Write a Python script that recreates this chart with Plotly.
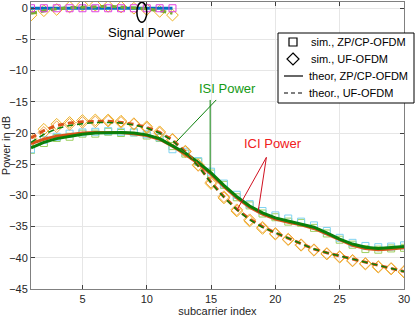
import plotly.graph_objects as go

# subcarrier indices
sub = list(range(1, 31))
sig_sub = list(range(1, 13))

# signal power (dB)
sig_zp_theor = [0, 0, 0, 0, 0, 0, 0, 0, 0, 0, 0, 0]
sig_zp_sim = [0, 0, 0, 0, 0, 0, 0, 0, 0, 0, 0, 0]
sig_uf_theor = [-0.8, -0.4, -0.1, 0.1, 0.2, 0.3, 0.3, 0.2, 0.1, -0.1, -0.4, -0.8]
sig_uf_sim = [-1.1, -0.4, -0.2, 0.2, 0.5, 0.5, 0.3, 0.2, 0.0, -0.2, -0.5, -1.1]

# ISI / ICI power (dB)
isi_zp_theor = [-22.4, -21.5, -20.9, -20.5, -20.2, -20.0, -19.9, -19.9, -20.0, -20.3,
                -20.9, -22.0, -23.2, -24.7, -26.4, -28.4, -30.2, -31.7, -32.8, -33.6,
                -34.1, -34.5, -35.1, -36.0, -37.0, -37.8, -38.3, -38.5, -38.4, -38.2]
ici_zp_theor = [-21.7, -21.0, -20.5, -20.2, -20.0, -19.9, -19.9, -19.9, -20.1, -20.4,
                -21.0, -22.1, -23.4, -24.9, -26.6, -28.6, -30.4, -31.9, -33.0, -33.8,
                -34.3, -34.7, -35.3, -36.2, -37.2, -38.0, -38.5, -38.7, -38.6, -38.4]
isi_uf_theor = [-21.5, -20.2, -19.3, -18.8, -18.5, -18.3, -18.3, -18.4, -18.7, -19.2,
                -20.0, -21.2, -23.1, -25.3, -28.0, -30.3, -32.3, -33.9, -35.1, -36.0,
                -36.9, -37.8, -38.6, -39.2, -39.7, -40.3, -40.8, -41.3, -41.7, -42.2]
ici_uf_theor = [-20.8, -19.6, -18.8, -18.4, -18.2, -18.1, -18.1, -18.3, -18.6, -19.1,
                -19.9, -21.1, -23.0, -25.2, -27.9, -30.2, -32.2, -33.8, -35.0, -36.0,
                -36.9, -37.8, -38.6, -39.2, -39.7, -40.3, -40.8, -41.3, -41.7, -42.2]
isi_zp_sim = [-22.7, -21.6, -20.8, -20.6, -20.1, -20.1, -19.8, -20.0, -19.9, -20.4,
              -20.8, -22.1, -23.3, -24.6, -26.5, -28.3, -30.3, -31.6, -32.9, -33.5,
              -34.2, -34.4, -35.2, -36.1, -37.1, -37.9, -38.6, -38.7, -38.5, -38.4]
ici_zp_sim = [-22.6, -21.1, -20.6, -20.1, -19.9, -19.8, -19.7, -19.8, -19.9, -20.2,
              -20.7, -22.6, -23.0, -24.5, -26.2, -28.1, -29.9, -31.4, -32.5, -33.2,
              -33.7, -34.2, -34.8, -35.7, -36.8, -37.6, -38.1, -38.3, -38.2, -38.0]
isi_uf_sim = [-20.9, -19.4, -18.6, -18.3, -18.0, -17.9, -17.9, -18.1, -18.5, -19.0,
              -19.8, -21.0, -22.9, -25.1, -28.1, -30.4, -32.5, -34.1, -35.3, -36.2,
              -37.1, -38.0, -38.8, -39.4, -39.9, -40.5, -41.0, -41.5, -41.8, -42.3]
ici_uf_sim = [-21.3, -19.9, -19.0, -18.6, -18.3, -18.2, -18.1, -18.3, -18.6, -19.2,
              -20.0, -21.1, -23.0, -25.2, -27.9, -30.2, -32.3, -33.9, -35.1, -36.1,
              -37.0, -37.9, -38.7, -39.3, -39.8, -40.4, -40.9, -41.4, -41.7, -42.2]

legend_names = ["sim., ZP/CP-OFDM", "sim., UF-OFDM", "theor, ZP/CP-OFDM", "theor., UF-OFDM"]

FONT = "Liberation Sans, Arial, sans-serif"
GREEN = "#0a800a"
ORANGE = "#d95319"
DASH = "6px,4px"

fig = go.Figure()

def markers(x, y, sym, color, size):
    fig.add_trace(go.Scatter(x=x, y=y, mode="markers", showlegend=False,
                             marker=dict(symbol=sym, size=size, color=color,
                                         line=dict(color=color, width=1))))

def line(x, y, color, dash, width):
    fig.add_trace(go.Scatter(x=x, y=y, mode="lines", showlegend=False,
                             line=dict(color=color, dash=dash, width=width)))

# simulated points
markers(sub, isi_zp_sim, "square-open", "#9ccf5f", 7)
markers(sub, ici_zp_sim, "square-open", "#7fd3f2", 7)
markers(sub, isi_uf_sim, "diamond-open", "#edb120", 9)
markers(sub, ici_uf_sim, "diamond-open", "#f3a43a", 9)
markers(sig_sub, sig_uf_sim, "diamond-open", "#edb120", 9)

# theory
line(sub, ici_zp_theor, ORANGE, "solid", 3)
line(sub, isi_zp_theor, GREEN, "solid", 3)
line(sub, ici_uf_theor, ORANGE, DASH, 3)
line(sub, isi_uf_theor, GREEN, DASH, 1.5)
line(sig_sub, sig_zp_theor, "#0072bd", "solid", 3)
line(sig_sub, sig_uf_theor, "#77ac30", DASH, 3)
markers(sig_sub, sig_zp_sim, "square-open", "#e040e0", 7)

# plot area in page pixels: x 31..404, y 2..289
def px(x):
    return (x - 31) / 373

def py(y):
    return (289 - y) / 287

# hand-made legend box (black glyphs)
fig.add_shape(type="rect", xref="paper", yref="paper", x0=px(278), x1=px(414),
              y0=py(103), y1=py(33), fillcolor="white", line=dict(color="black", width=1),
              layer="above")
rows = [42, 59, 76, 93]
fig.add_shape(type="rect", xref="paper", yref="paper", x0=px(289), x1=px(297),
              y0=py(rows[0] + 4), y1=py(rows[0] - 4), line=dict(color="black", width=1.2),
              layer="above")
cy = rows[1]
fig.add_shape(type="path", xref="paper", yref="paper", layer="above",
              path=f"M {px(293)} {py(cy - 6)} L {px(299)} {py(cy)} L {px(293)} {py(cy + 6)} "
                   f"L {px(287)} {py(cy)} Z",
              line=dict(color="black", width=1.2))
fig.add_shape(type="line", xref="paper", yref="paper", x0=px(284), x1=px(303),
              y0=py(rows[2]), y1=py(rows[2]), line=dict(color="black", width=1.2), layer="above")
fig.add_shape(type="line", xref="paper", yref="paper", x0=px(284), x1=px(303),
              y0=py(rows[3]), y1=py(rows[3]), line=dict(color="black", width=1.2, dash="4px,3px"),
              layer="above")
for i, name in enumerate(legend_names):
    fig.add_annotation(xref="paper", yref="paper", x=px(309 if i < 2 else 307), y=py(rows[i]),
                       text=name, showarrow=False, xanchor="left", yanchor="middle",
                       font=dict(size=11, color="black", family=FONT))

# annotations
fig.add_shape(type="circle", xref="x", yref="y", x0=9.23, x1=10.0, y0=-2.24, y1=0.96,
              line=dict(color="black", width=1.5))
fig.add_annotation(x=9.97, y=-3.85, text="Signal Power", showarrow=False,
                   font=dict(size=13, color="black", family=FONT))
fig.add_annotation(x=16.3, y=-12.8, text="ISI Power", showarrow=False,
                   font=dict(size=13, color="#149a14", family=FONT))
fig.add_shape(type="line", x0=14.93, x1=14.93, y0=-14.7, y1=-26.3, line=dict(color=GREEN, width=1))
fig.add_shape(type="line", x0=15.4, x1=12.3, y0=-14.7, y1=-21.4, line=dict(color=GREEN, width=1))
fig.add_annotation(x=19.8, y=-21.6, text="ICI Power", showarrow=False,
                   font=dict(size=13, color="#f02020", family=FONT))
fig.add_shape(type="line", x0=19.3, x1=17.0, y0=-23.9, y1=-32.4, line=dict(color="#d01020", width=1))
fig.add_shape(type="line", x0=19.3, x1=18.65, y0=-23.9, y1=-32.7, line=dict(color="#d01020", width=1))

axis = dict(showgrid=True, gridcolor="#e6e6e6", zeroline=False, showline=True,
            linecolor="#808080", linewidth=1, mirror="allticks", ticks="inside",
            ticklen=4, tickcolor="#404040", automargin=False,
            tickfont=dict(size=11, color="#262626", family=FONT))
fig.update_layout(
    width=415, height=320,
    margin=dict(l=31, r=11, t=2, b=31),
    paper_bgcolor="white", plot_bgcolor="white",
    font=dict(family=FONT, size=11, color="#262626"),
    showlegend=False,
    xaxis=dict(axis, range=[1, 30], tickvals=[5, 10, 15, 20, 25, 30],
               title=dict(text="subcarrier index", font=dict(size=11), standoff=3)),
    yaxis=dict(axis, range=[-45, 1], tickvals=[0, -5, -10, -15, -20, -25, -30, -35, -40, -45],
               title=dict(text="Power in dB", font=dict(size=11), standoff=1)),
)

fig.write_html("out.html", config={"displayModeBar": False},
               post_script="document.body.style.margin='0px';")
